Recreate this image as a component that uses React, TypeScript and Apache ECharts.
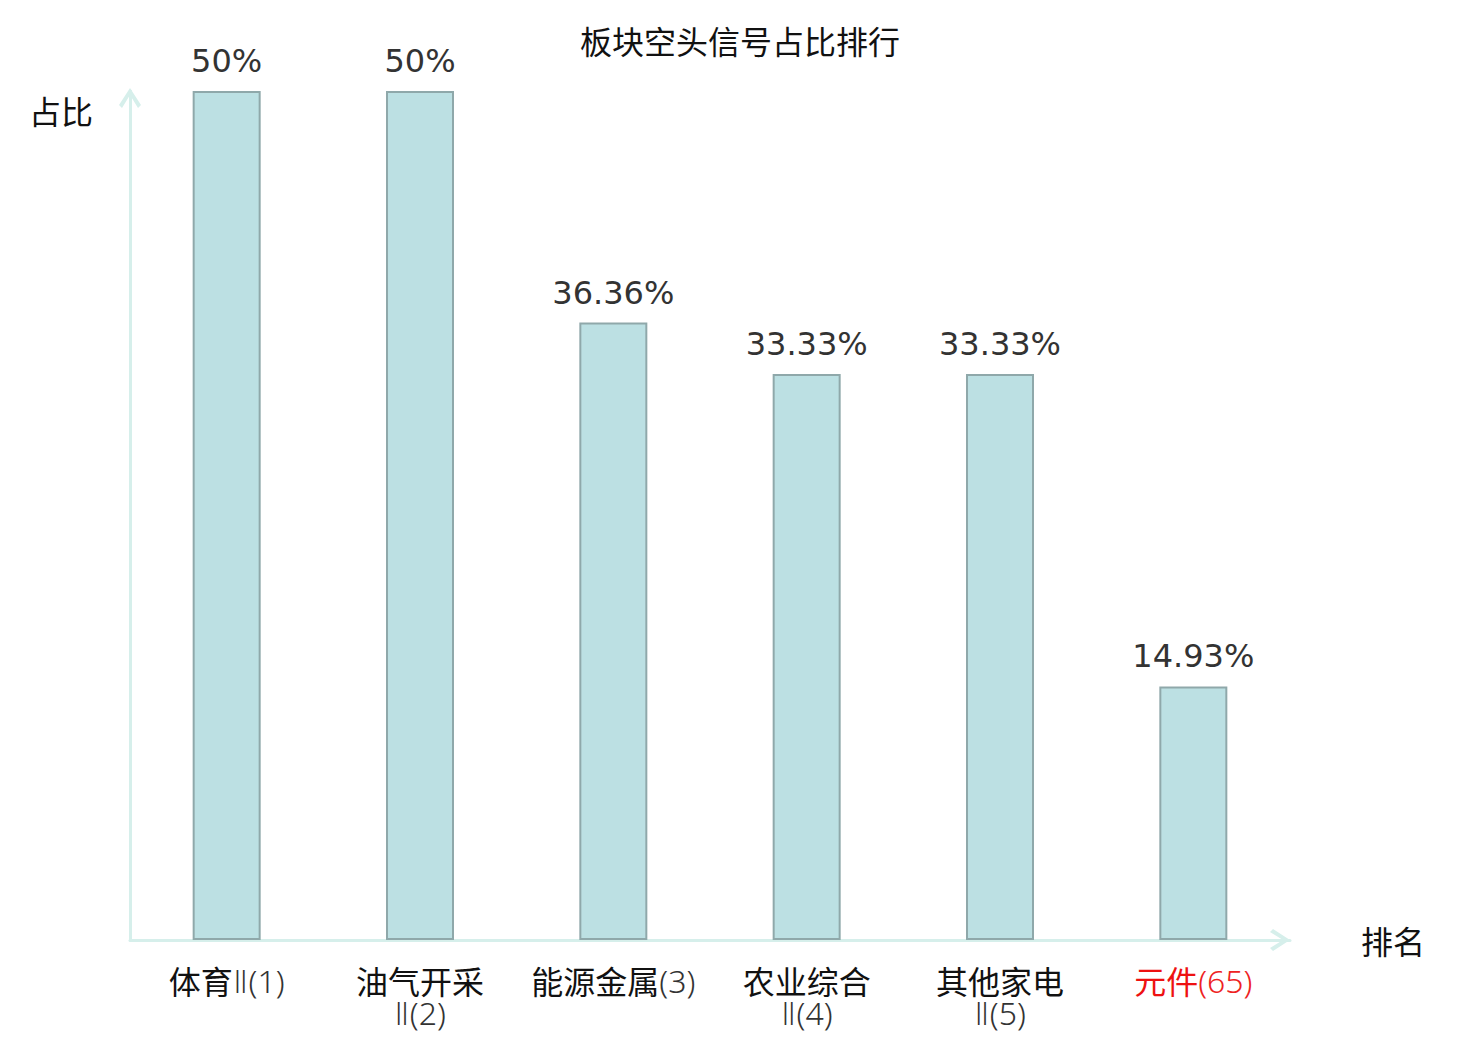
import React, { useEffect, useRef } from "react";
import * as echarts from "echarts";

const categories = ["体育Ⅱ(1)", "油气开采\nⅡ(2)", "能源金属(3)", "农业综合\nⅡ(4)", "其他家电\nⅡ(5)", "元件(65)"];
const values = [50, 50, 36.36, 33.33, 33.33, 14.93];
const highlightIndex = 5;

const chevron = "path://M0,17 L11,0 L22,17 L19,20 L11,7 L3,20 Z";
const cjkFont = "Noto Sans CJK SC";
const latinFont = '"Noto Sans", "DejaVu Sans", sans-serif';
const axisColor = "#d6efeb";

export default function App() {
  const ref = useRef<HTMLDivElement>(null);
  useEffect(() => {
    document.body.style.margin = "0";
    const chart = echarts.init(ref.current!, null, { renderer: "svg" });
    const baseRich = (color: string) => ({
      fontSize: 32,
      lineHeight: 32,
      color,
    });
    chart.setOption({
      animation: false,
      backgroundColor: "#ffffff",
      title: {
        text: "板块空头信号占比排行",
        left: "center",
        top: 19,
        textStyle: { fontSize: 32, fontWeight: "normal", color: "#111", fontFamily: cjkFont },
      },
      grid: { left: 130, right: 190, top: 91, bottom: 100, containLabel: false },
      xAxis: {
        type: "category",
        data: categories,
        name: "排名",
        nameLocation: "end",
        nameGap: 71,
        nameTextStyle: { fontSize: 32, color: "#111", fontFamily: cjkFont, verticalAlign: "middle" },
        axisLine: {
          show: true,
          lineStyle: { color: axisColor, width: 3 },
          symbol: ["none", chevron],
          symbolSize: [22, 20],
          symbolOffset: [0, -10],
        },
        axisTick: { show: false },
        axisLabel: {
          margin: 24,
          fontSize: 32,
          lineHeight: 32,
          interval: 0,
          formatter: (v: string, i: number) => {
            const m = v.match(/^([\u4e00-\u9fff]+)(\n?)([\s\S]*)$/);
            const hi = i === highlightIndex;
            if (!m) return v;
            return `{${hi ? "ra" : "a"}|${m[1]}}${m[2]}{${hi ? "rb" : "b"}|${m[3]}}`;
          },
          rich: {
            a: { ...baseRich("#111"), fontFamily: cjkFont },
            b: { ...baseRich("#333"), fontFamily: latinFont, fontWeight: 300 },
            ra: { ...baseRich("#ee1111"), fontFamily: cjkFont },
            rb: { ...baseRich("#ee2222"), fontFamily: latinFont, fontWeight: 300 },
          },
        },
      },
      yAxis: {
        type: "value",
        min: 0,
        max: 50,
        name: "占比",
        nameLocation: "end",
        nameGap: -19,
        nameTextStyle: {
          fontSize: 32,
          color: "#111",
          fontFamily: cjkFont,
          align: "right",
          verticalAlign: "middle",
          padding: [0, 37, 0, 0],
        },
        axisLine: {
          show: true,
          lineStyle: { color: axisColor, width: 3 },
          symbol: ["none", chevron],
          symbolSize: [22, 20],
          symbolOffset: [0, -7],
        },
        axisTick: { show: false },
        axisLabel: { show: false },
        splitLine: { show: false },
      },
      series: [
        {
          type: "bar",
          data: values,
          barWidth: 68,
          itemStyle: { color: "#bce0e3", borderColor: "#8fa8aa", borderWidth: 2 },
          label: {
            show: true,
            position: "top",
            distance: 14,
            fontSize: 32,
            color: "#333",
            fontFamily: "DejaVu Sans",
            formatter: (p: any) => `${p.value}%`,
          },
        },
      ],
    });
    return () => chart.dispose();
  }, []);
  return <div ref={ref} style={{ width: 1480, height: 1040 }} />;
}
